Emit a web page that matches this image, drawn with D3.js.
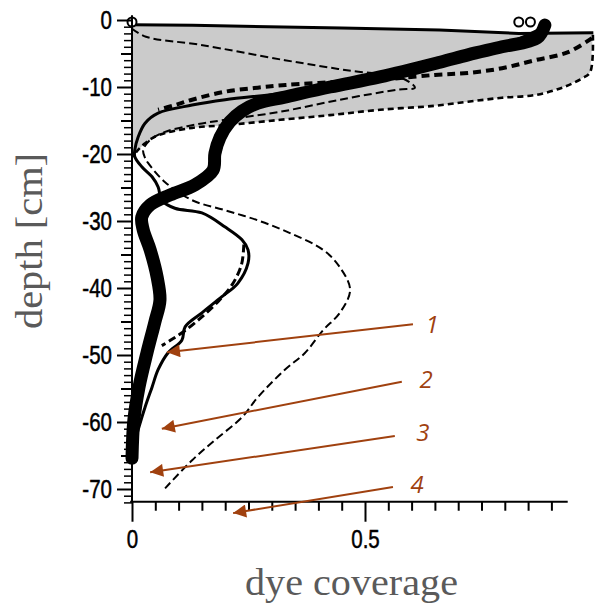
<!DOCTYPE html>
<html>
<head>
<meta charset="utf-8">
<script src="https://cdn.jsdelivr.net/npm/d3@7"></script>
<style>
  html, body { margin: 0; padding: 0; background: #fff; }
  svg { display: block; }
</style>
</head>
<body>
<svg id="chart" width="596" height="604"></svg>
<script>
// ---------------- data (coverage, depth in cm) ----------------
const xTickMajor = [0, 0.5];
const xTickMinor = [0.05,0.1,0.15,0.2,0.25,0.3,0.35,0.4,0.45,0.55,0.6,0.65,0.7,0.75,0.8,0.85,0.9];
const yTickMajor = [0,-10,-20,-30,-40,-50,-60,-70];

// top edge of grey envelope
const topCov   = [0, 0.13, 0.45, 0.66, 0.83, 0.99];
const topDepth = [-0.7, -0.8, -1.2, -1.5, -2.0, -1.9];

// outer (lower) envelope, dashed
const envCov   = [0.989, 0.983, 0.966, 0.923, 0.865, 0.794, 0.721, 0.650, 0.532, 0.425, 0.318, 0.200, 0.129, 0.056, 0.028, 0.013, 0.002];
const envDepth = [-2.2, -7.8, -8.7, -10.1, -11.2, -11.6, -12.2, -12.8, -13.4, -14.2, -14.9, -15.7, -16.1, -17.2, -18.4, -19.4, -20.4];

// thick black profile (mean)
const thickCov   = [0.886, 0.869, 0.794, 0.721, 0.661, 0.532, 0.425, 0.328, 0.270, 0.236, 0.210, 0.189, 0.178, 0.174, 0.135, 0.082, 0.039, 0.021, 0.024, 0.039, 0.054, 0.060, 0.049, 0.032, 0.015, 0.004, 0.000];
const thickDepth = [-0.75, -2.7, -4.0, -5.2, -6.3, -8.5, -10.0, -11.5, -12.4, -13.6, -15.2, -17.5, -19.9, -22.4, -24.6, -26.1, -27.6, -29.4, -31.3, -34.3, -38.4, -41.8, -45.1, -49.7, -54.8, -59.7, -65.4];

// thin solid profile (1)
const solidCov   = [0.88, 0.80, 0.65, 0.50, 0.40, 0.328, 0.200, 0.129, 0.056, 0.028, 0.013, 0.006, 0.006, 0.021, 0.043, 0.056, 0.064, 0.092, 0.150, 0.200, 0.236, 0.249, 0.249, 0.227, 0.193, 0.150, 0.114, 0.107, 0.077, 0.056, 0.043, 0.028, 0.013, 0.004];
const solidDepth = [-1.2, -3.6, -6.0, -8.4, -10.0, -10.9, -11.9, -12.7, -13.9, -15.4, -17.5, -19.4, -20.4, -21.9, -23.4, -24.9, -26.9, -28.1, -28.8, -30.9, -32.8, -34.3, -36.3, -39.3, -41.3, -43.7, -45.8, -47.8, -49.7, -52.2, -54.8, -57.8, -61.2, -63.4];

// thick dashed profile, upper part
const dashTopCov   = [0.987, 0.936, 0.865, 0.794, 0.721, 0.650, 0.550, 0.450, 0.330, 0.270, 0.200, 0.129, 0.092, 0.056];
const dashTopDepth = [-2.7, -4.8, -6.0, -7.2, -7.9, -8.2, -8.8, -9.2, -9.7, -10.1, -10.7, -11.9, -12.7, -13.4];
// thick dashed profile, deeper part
const dashLowCov   = [0.240, 0.235, 0.215, 0.185, 0.150, 0.115, 0.085, 0.064];
const dashLowDepth = [-33.5, -36.5, -39.5, -42.0, -44.3, -46.3, -47.7, -48.6];

// thin long-dashed profile
const longCov   = [0.000, 0.030, 0.146, 0.328, 0.461, 0.580, 0.607, 0.569, 0.446, 0.318, 0.200, 0.129, 0.071, 0.039, 0.024, 0.028, 0.034, 0.071, 0.129, 0.200, 0.270, 0.339, 0.410, 0.446, 0.468, 0.446, 0.410, 0.371, 0.328, 0.270, 0.236, 0.178, 0.129, 0.071];
const longDepth = [-1.3, -2.5, -3.7, -6.0, -7.5, -8.7, -10.1, -10.4, -11.9, -13.7, -14.9, -15.7, -16.7, -17.9, -19.4, -20.6, -21.3, -24.2, -26.9, -28.4, -29.9, -31.8, -34.3, -36.9, -40.3, -43.7, -46.3, -49.7, -52.2, -56.3, -59.3, -62.7, -65.7, -69.9];

// open circle markers
const markCov   = [0, 0.83, 0.855];
const markDepth = [-0.3, -0.3, -0.3];

// annotations
const annoLabels = ["1", "2", "3", "4"];
const annoFromCov   = [0.603, 0.579, 0.564, 0.560];
const annoFromDepth = [-45.4, -54.0, -62.1, -69.7];
const annoToCov     = [0.075, 0.064, 0.039, 0.217];
const annoToDepth   = [-49.6, -61.0, -67.5, -73.6];
const annoLabCov    = [0.644, 0.631, 0.624, 0.612];
const annoLabDepth  = [-45.5, -53.7, -61.6, -69.3];

// ---------------- drawing ----------------
const svg = d3.select("#chart");
const x = d3.scaleLinear().domain([0, 0.5]).range([132, 365]);
const y = d3.scaleLinear().domain([0, -70]).range([20, 489]);

const pts = (c, d) => c.map((v, i) => [v, d[i]]);
const line = d3.line().x(p => x(p[0])).y(p => y(p[1]));
const cline = d3.line().x(p => x(p[0])).y(p => y(p[1])).curve(d3.curveCatmullRom.alpha(0.5));

const brown = "#a0410f";

// grey envelope
const poly = pts(topCov, topDepth).concat(pts(envCov, envDepth)).concat([[0, envDepth[envDepth.length - 1]]]);
svg.append("path").attr("d", line(poly) + "Z").attr("fill", "#cbcbcb").attr("stroke", "none");

// curves
svg.append("path").attr("d", cline(pts(envCov, envDepth)))
  .attr("fill", "none").attr("stroke", "#000").attr("stroke-width", 2.6).attr("stroke-dasharray", "6,4");
svg.append("path").attr("d", cline(pts(longCov, longDepth)))
  .attr("fill", "none").attr("stroke", "#000").attr("stroke-width", 2).attr("stroke-dasharray", "8,4");
svg.append("path").attr("d", cline(pts(dashTopCov, dashTopDepth)))
  .attr("fill", "none").attr("stroke", "#000").attr("stroke-width", 4).attr("stroke-dasharray", "8,5");
svg.append("path").attr("d", cline(pts(dashLowCov, dashLowDepth)))
  .attr("fill", "none").attr("stroke", "#000").attr("stroke-width", 3).attr("stroke-dasharray", "8,4");
svg.append("path").attr("d", cline(pts(solidCov, solidDepth)))
  .attr("fill", "none").attr("stroke", "#000").attr("stroke-width", 3);
svg.append("path").attr("d", cline(pts(thickCov, thickDepth)))
  .attr("fill", "none").attr("stroke", "#000").attr("stroke-width", 13)
  .attr("stroke-linejoin", "round").attr("stroke-linecap", "round");
svg.append("path").attr("d", line(pts(topCov, topDepth)))
  .attr("fill", "none").attr("stroke", "#000").attr("stroke-width", 3);

svg.selectAll("circle.mk").data(pts(markCov, markDepth)).join("circle")
  .attr("class", "mk").attr("cx", p => x(p[0])).attr("cy", p => y(p[1])).attr("r", 4.5)
  .attr("fill", "#fff").attr("stroke", "#000").attr("stroke-width", 2);

// axes
const tickFont = "'Liberation Sans', Arial, sans-serif";
const axG = svg.append("g").attr("stroke", "#000");
axG.append("line").attr("x1", x(0)).attr("x2", x(0)).attr("y1", y(0.7)).attr("y2", y(-71.9)).attr("stroke-width", 2);
axG.append("line").attr("x1", x(-0.004)).attr("x2", x(0.935)).attr("y1", y(-71.9)).attr("y2", y(-71.9)).attr("stroke-width", 2);

function narrow(sel) {
  sel.attr("font-family", tickFont).attr("font-size", 25).attr("fill", "#000")
     .attr("stroke", "#000").attr("stroke-width", 0.5)
     .each(function () {
       const w = this.getComputedTextLength();
       d3.select(this).attr("textLength", w * 0.82).attr("lengthAdjust", "spacingAndGlyphs");
     });
}

const yMinor = d3.range(0, -73, -1).filter(v => v % 10 !== 0);
const gy1 = svg.append("g").attr("transform", `translate(${x(0)},0)`)
  .call(d3.axisLeft(y).tickValues(yMinor).tickSize(8).tickFormat(""));
gy1.selectAll(".tick line").attr("stroke-width", d => (d % 5 === 0 ? 2 : 1.5)).attr("x2", d => (d % 5 === 0 ? -11 : -8));
const gy2 = svg.append("g").attr("transform", `translate(${x(0)},0)`)
  .call(d3.axisLeft(y).tickValues(yTickMajor).tickSize(15).tickPadding(5).tickFormat(d => String(d)));
gy2.selectAll(".tick line").attr("stroke-width", 2);
narrow(gy2.selectAll("text"));
svg.selectAll(".domain").remove();

const gx1 = svg.append("g").attr("transform", `translate(0,${y(-71.9)})`)
  .call(d3.axisBottom(x).tickValues(xTickMinor).tickSize(9).tickFormat(""));
gx1.selectAll(".tick line").attr("stroke-width", 2);
const gx2 = svg.append("g").attr("transform", `translate(0,${y(-71.9)})`)
  .call(d3.axisBottom(x).tickValues(xTickMajor).tickSize(20).tickPadding(9).tickFormat(d => String(d)));
gx2.selectAll(".tick line").attr("stroke-width", 2);
narrow(gx2.selectAll("text"));
svg.selectAll(".domain").remove();

// axis titles
svg.append("text").text("dye coverage")
  .attr("x", 245).attr("y", 595)
  .attr("textLength", 213).attr("lengthAdjust", "spacingAndGlyphs")
  .attr("font-family", "'Liberation Serif', 'DejaVu Serif', serif").attr("font-size", 38).attr("fill", "#5a5a5a");
svg.append("text").text("depth [cm]")
  .attr("transform", "translate(42,329) rotate(-90)")
  .attr("textLength", 176).attr("lengthAdjust", "spacingAndGlyphs")
  .attr("font-family", "'Liberation Serif', 'DejaVu Serif', serif").attr("font-size", 38).attr("fill", "#5a5a5a");

// annotations
const defs = svg.append("defs");
defs.append("marker").attr("id", "ah").attr("viewBox", "0 0 10 10").attr("refX", 10).attr("refY", 5)
  .attr("markerUnits", "userSpaceOnUse").attr("markerWidth", 17).attr("markerHeight", 13).attr("orient", "auto")
  .append("path").attr("d", "M0,0 L10,5 L0,10 Z").attr("fill", brown);

const annos = annoLabels.map((l, i) => ({ l, fx: annoFromCov[i], fy: annoFromDepth[i], tx: annoToCov[i], ty: annoToDepth[i], lx: annoLabCov[i], ly: annoLabDepth[i] }));
svg.selectAll("line.an").data(annos).join("line").attr("class", "an")
  .attr("x1", d => x(d.fx)).attr("y1", d => y(d.fy)).attr("x2", d => x(d.tx)).attr("y2", d => y(d.ty))
  .attr("stroke", brown).attr("stroke-width", 2).attr("marker-end", "url(#ah)");
svg.selectAll("text.an").data(annos).join("text").attr("class", "an")
  .attr("x", d => x(d.lx)).attr("y", d => y(d.ly)).attr("dy", "0.35em").attr("text-anchor", "middle")
  .attr("font-family", "'Open Sans', 'Liberation Sans', sans-serif").attr("font-style", "italic")
  .attr("font-size", 24).attr("fill", brown).text(d => d.l);
</script>
</body>
</html>
